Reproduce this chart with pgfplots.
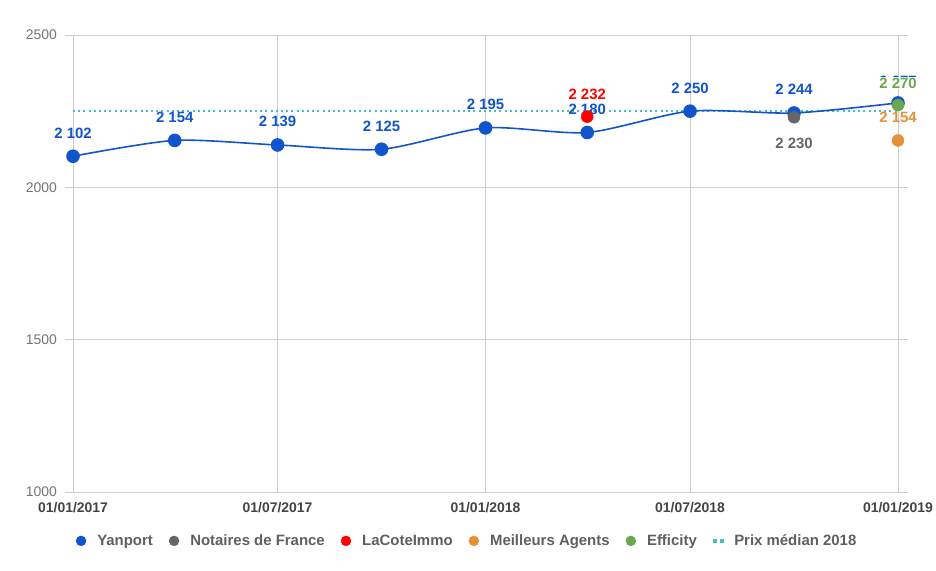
\documentclass[border=0pt]{standalone}
\usepackage{fontspec}
\setmainfont{Liberation Sans}
\usepackage{pgfplots}
\pgfplotsset{compat=1.18}
\definecolor{yan}{HTML}{1155CC}
\definecolor{notaire}{HTML}{666666}
\definecolor{lacote}{HTML}{FF0000}
\definecolor{ma}{HTML}{E69138}
\definecolor{eff}{HTML}{6AA84F}
\definecolor{med}{HTML}{46BDC6}
\definecolor{gridc}{HTML}{CCCCCC}
\definecolor{ticky}{HTML}{757575}
\definecolor{tickx}{HTML}{444444}
\definecolor{legt}{HTML}{5F5F5F}
\tikzset{lab/.style={font=\bfseries\fontsize{15}{15}\selectfont, anchor=base, inner sep=0pt}}
\begin{document}
\begin{tikzpicture}
\path[use as bounding box] (-65bp,-79bp) rectangle (871bp,492bp);
\begin{axis}[
  at={(0,0)}, anchor=south west,
  scale only axis, width=843bp, height=457bp,
  xmin=-7.1, xmax=738.85, ymin=1000, ymax=2500,
  axis line style={draw=none},
  xmajorgrids, ymajorgrids,
  grid style={gridc, line width=0.8bp},
  major tick length=0pt,
  ytick={1000,1500,2000,2500},
  xtick={0,181,365,546,730},
  xticklabels={01/01/2017,01/07/2017,01/01/2018,01/07/2018,01/01/2019},
  /pgf/number format/assume math mode=true,
  /pgf/number format/1000 sep={},
  yticklabel style={font=\fontsize{14}{14}\selectfont, ticky, anchor=east, inner sep=0pt, xshift=-8bp},
  xticklabel style={font=\bfseries\fontsize{14}{14}\selectfont, tickx, anchor=north, inner sep=0pt, yshift=-10bp},
  clip=false,
  legend style={at={(0.477,-0.107)}, anchor=center, draw=none, fill=none,
    legend columns=-1, font=\bfseries\fontsize{15}{15}\selectfont, text=legt,
    /tikz/every even column/.append style={column sep=14bp}},
]
% Prix median 2018
\addplot[forget plot, med, line width=2.2bp, dash pattern=on 2bp off 3.2bp] coordinates {(0,2250) (730,2250)};
% Yanport
\addplot[forget plot, yan, line width=1.6bp, smooth, tension=0.45, mark=*, mark size=6bp,
  mark options={solid, fill=yan},
  nodes near coords, point meta=explicit symbolic,
  every node near coord/.style={lab, yan, yshift=18bp}]
  coordinates {
  (0,2102) [2 102]
  (90,2154) [2 154]
  (181,2139) [2 139]
  (273,2125) [2 125]
  (365,2195) [2 195]
  (455,2180) [2 180]
  (546,2250) [2 250]
  (638,2244) [2 244]
  (730,2277) []
  };
% Yanport label of the last point (mostly hidden behind Efficity's label)
\addplot[forget plot, only marks, mark=none,
  nodes near coords, point meta=explicit symbolic,
  every node near coord/.style={lab, yan, yshift=16bp}]
  coordinates {(730,2277) [2 277]};
% Notaires de France
\addplot[forget plot, only marks, notaire, mark=*, mark size=6bp, mark options={fill=notaire},
  nodes near coords, point meta=explicit symbolic,
  every node near coord/.style={lab, notaire, yshift=-31bp}]
  coordinates {(638,2230) [2 230]};
% LaCoteImmo
\addplot[forget plot, only marks, lacote, mark=*, mark size=6bp, mark options={fill=lacote},
  nodes near coords, point meta=explicit symbolic,
  every node near coord/.style={lab, lacote, yshift=17bp}]
  coordinates {(455,2232) [2 232]};
% Meilleurs Agents
\addplot[forget plot, only marks, ma, mark=*, mark size=6bp, mark options={fill=ma},
  nodes near coords, point meta=explicit symbolic,
  every node near coord/.style={lab, ma, yshift=18bp}]
  coordinates {(730,2154) [2 154]};
% Efficity
\addplot[forget plot, only marks, eff, mark=*, mark size=6bp, mark options={fill=eff},
  nodes near coords, point meta=explicit symbolic,
  every node near coord/.style={lab, eff, yshift=17bp, fill=white, inner ysep=0.5bp}]
  coordinates {(730,2270) [2 270]};
% Legend
\addlegendimage{legend image code/.code={\fill[yan] (0,0) circle (5bp); \path (14bp,0);}}
\addlegendentry{Yanport}
\addlegendimage{legend image code/.code={\fill[notaire] (0,0) circle (5bp); \path (14bp,0);}}
\addlegendentry{Notaires de France}
\addlegendimage{legend image code/.code={\fill[lacote] (0,0) circle (5bp); \path (14bp,0);}}
\addlegendentry{LaCoteImmo}
\addlegendimage{legend image code/.code={\fill[ma] (0,0) circle (5bp); \path (14bp,0);}}
\addlegendentry{Meilleurs Agents}
\addlegendimage{legend image code/.code={\fill[eff] (0,0) circle (5bp); \path (14bp,0);}}
\addlegendentry{Efficity}
\addlegendimage{legend image code/.code={\fill[med] (-5bp,-1.6bp) rectangle (-1.8bp,1.6bp); \fill[med] (2bp,-1.6bp) rectangle (5.2bp,1.6bp); \path (14bp,0);}}
\addlegendentry{Prix médian 2018}
\end{axis}
\end{tikzpicture}
\end{document}
